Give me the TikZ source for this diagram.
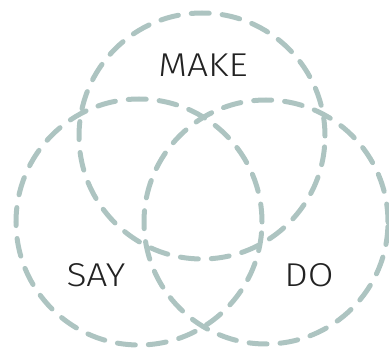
\documentclass[tikz,border=0pt]{standalone}
\usepackage{fontspec}
\setmainfont{Fira Sans Light}[FakeStretch=1.13]
\definecolor{venn}{HTML}{ADC4C1}
\definecolor{lbl}{HTML}{222222}
\begin{document}
\begin{tikzpicture}[x=1pt,y=-1pt,
  vcircle/.style={draw=venn, line width=5pt, line cap=round, dash pattern=on 18pt off 13pt},
  vlabel/.style={text=lbl, font=\fontsize{33}{33}\selectfont, inner sep=0pt}]
\useasboundingbox (0,0) rectangle (389,350);
\node[vcircle, circle, minimum size=246pt] (make) at (202,136) {};
\node[vcircle, circle, minimum size=246pt] (say) at (139,222) {};
\node[vcircle, circle, minimum size=244pt] (do) at (266,222) {};
\node[vlabel] (tmake) at (203,65) {MAKE};
\node[vlabel] (tsay) at (96,275) {SAY};
\node[vlabel] (tdo) at (309,275) {DO};
\end{tikzpicture}
\end{document}
